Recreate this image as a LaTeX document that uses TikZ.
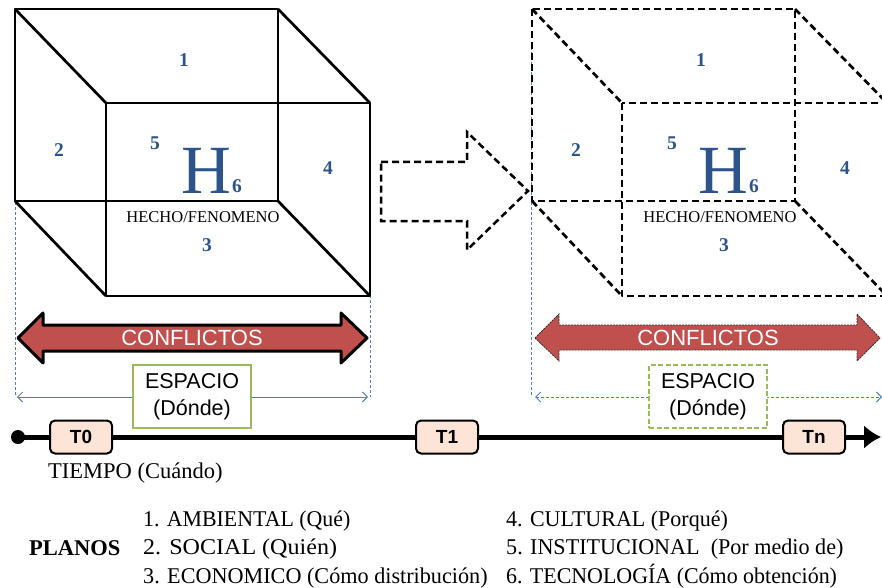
\documentclass[tikz,border=0pt]{standalone}
\usepackage{fontspec}
\setmainfont{Liberation Serif}
\setsansfont{Liberation Sans}
\usetikzlibrary{arrows.meta}
\definecolor{hblue}{RGB}{44,84,138}
\definecolor{conflred}{RGB}{192,80,77}
\definecolor{espgreen}{RGB}{155,187,89}
\definecolor{dimblue}{RGB}{79,129,189}
\definecolor{tpeach}{RGB}{252,229,214}
\begin{document}
\begin{tikzpicture}[x=1pt,y=-1pt,
    cubeedge/.style={line width=2.7pt, line join=round},
    cubedash/.style={cubeedge, dash pattern=on 7pt off 4pt},
    num/.style={text=hblue, font=\bfseries\fontsize{19.5}{19.5}\selectfont, inner sep=0},
    bigh/.style={text=hblue, font=\fontsize{69}{69}\selectfont, inner sep=0},
    hecho/.style={font=\fontsize{16.5}{18}\selectfont, inner sep=0},
    dimline/.style={dimblue, line width=0.9pt, {Straight Barb[length=5pt,width=10pt]}-{Straight Barb[length=5pt,width=10pt]}},
    dimext/.style={dimblue, line width=0.9pt, dash pattern=on 3pt off 2pt},
    espbox/.style={draw=espgreen, line width=2pt, fill=white, minimum width=118pt, minimum height=63pt, align=center, font=\sffamily\fontsize{21.5}{27}\selectfont, inner sep=0},
    tbox/.style={draw, line width=2pt, rounded corners=5pt, fill=tpeach, minimum width=62pt, minimum height=33pt, font=\sffamily\bfseries\fontsize{19}{19}\selectfont, inner sep=0},
    conftext/.style={text=white, font=\sffamily\fontsize{22}{22}\selectfont, inner sep=0},
    plano/.style={anchor=base west, font=\fontsize{22.5}{22.5}\selectfont, inner sep=0}]
  \useasboundingbox (0,0) rectangle (882,588);

  % extension lines of the space
  \draw[dimext] (15,57) -- (15,397);
  \draw[dimext] (370,155) -- (370,397);
  \draw[dimext] (531,47) -- (531,397);

  % cube at T0
  \draw[cubeedge] (15,9) rectangle (278,201);
  \draw[cubeedge] (106,103) rectangle (370,296);
  \draw[cubeedge] (15,9) -- (106,103);
  \draw[cubeedge] (278,9) -- (370,103);
  \draw[cubeedge] (15,201) -- (106,296);
  \draw[cubeedge] (278,201) -- (370,296);
  \node[num] (l1) at (184,60) {1};
  \node[num] (l2) at (59,150) {2};
  \node[num] (l3) at (207,245) {3};
  \node[num] (l4) at (328,168) {4};
  \node[num] (l5) at (155,143) {5};
  \node[bigh] (lH) at (206,171) {H};
  \node[num] (l6) at (237,186) {6};
  \node[hecho] (lhecho) at (203,217) {HECHO/FENOMENO};

  % cube at T1
  \draw[cubedash] (532,9) rectangle (795,201);
  \draw[cubedash] (622,103) rectangle (887,296);
  \draw[cubedash] (532,9) -- (622,103);
  \draw[cubedash] (795,9) -- (887,103);
  \draw[cubedash] (532,201) -- (622,296);
  \draw[cubedash] (795,201) -- (887,296);
  \node[num] (r1) at (701,60) {1};
  \node[num] (r2) at (576,150) {2};
  \node[num] (r3) at (724,245) {3};
  \node[num] (r4) at (845,168) {4};
  \node[num] (r5) at (672,143) {5};
  \node[bigh] (rH) at (723,171) {H};
  \node[num] (r6) at (754,186) {6};
  \node[hecho] (rhecho) at (720,217) {HECHO/FENOMENO};

  % change between the two
  \draw[line width=2.5pt, dash pattern=on 7pt off 4pt]
    (381,162) -- (467,162) -- (467,132) -- (528,191) -- (467,250) -- (467,221) -- (381,221) -- cycle;

  % conflicts
  \filldraw[fill=conflred, draw=black, line width=3pt, line join=round]
    (18,338) -- (43,313) -- (43,325) -- (341,325) -- (341,313) -- (367,338)
    -- (341,363) -- (341,351) -- (43,351) -- (43,363) -- cycle;
  \node[conftext] (lconf) at (192,338) {CONFLICTOS};
  \filldraw[fill=conflred, draw=black!80, line width=0.8pt, dash pattern=on 2pt off 1pt]
    (535,338) -- (559,314) -- (559,325) -- (857,325) -- (857,314) -- (880,338)
    -- (857,361) -- (857,350) -- (559,350) -- (559,361) -- cycle;
  \node[conftext] (rconf) at (708,338) {CONFLICTOS};

  % space
  \coordinate (ldim-a) at (17,397);
  \coordinate (ldim-b) at (368,397);
  \coordinate (rdim-a) at (535,397);
  \coordinate (rdim-b) at (882,397);
  \draw[dimline] (ldim-a) -- (ldim-b);
  \draw[dimline, dash pattern=on 3pt off 2pt] (rdim-a) -- (rdim-b);
  \node[espbox] (lesp) at (192,396.5) {ESPACIO\\(Dónde)};
  \node[espbox, dash pattern=on 5pt off 2.5pt] (resp) at (708,396.5) {ESPACIO\\(Dónde)};

  % time
  \node[circle, fill, inner sep=0, minimum size=14pt] (tstart) at (18,437) {};
  \coordinate (tend) at (881,437);
  \draw[line width=5pt, -{Latex[length=17pt,width=24pt]}] (tstart.center) -- (tend);
  \node[tbox] (t0) at (81,437) {T0};
  \node[tbox] (t1) at (447,437) {T1};
  \node[tbox] (tn) at (814,437) {Tn};
  \node[plano] (tiempo) at (48,478) {TIEMPO (Cuándo)};

  % planes
  \node[plano, font=\bfseries\fontsize{22.5}{22.5}\selectfont] (planos) at (29,555) {PLANOS};
  \node[plano] (p1) at (143,526) {\scalebox{0.972}[1]{1. AMBIENTAL (Qué)}};
  \node[plano] (p2) at (143,554.5) {\scalebox{1.07}[1]{2. SOCIAL (Quién)}};
  \node[plano] (p3) at (143,583) {\scalebox{0.986}[1]{3. ECONOMICO (Cómo distribución)}};
  \node[plano] (p4) at (506,526) {\scalebox{0.978}[1]{4. CULTURAL (Porqué)}};
  \node[plano] (p5) at (506,554.5) {\scalebox{0.983}[1]{5. INSTITUCIONAL\ \ (Por medio de)}};
  \node[plano] (p6) at (506,583) {\scalebox{0.975}[1]{6. TECNOLOGÍA (Cómo obtención)}};
\end{tikzpicture}
\end{document}
